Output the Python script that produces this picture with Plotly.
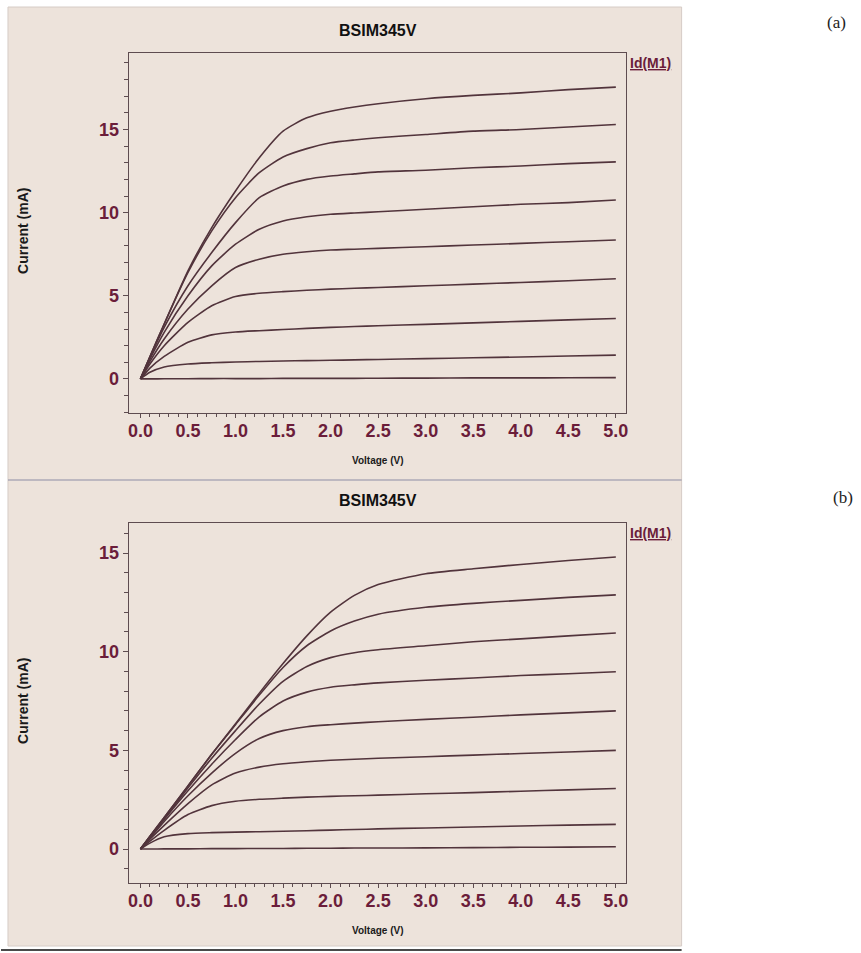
import plotly.graph_objects as go

W, H = 861, 953

# Drain voltage sweep (V)
vds = [0, 0.1, 0.25, 0.5, 0.75, 1.0, 1.25, 1.5, 1.75, 2.0, 2.25, 2.5, 3.0, 3.5, 4.0, 4.5, 5.0]

# (a) drain current Id(M1) in mA, one list per gate-voltage step
id_a1 = [0, 1.35, 3.3, 6.5, 9.1, 11.3, 13.3, 14.9, 15.7, 16.1, 16.35, 16.55, 16.85, 17.05, 17.2, 17.4, 17.55]
id_a2 = [0, 1.33, 3.3, 6.4, 8.9, 10.9, 12.4, 13.35, 13.85, 14.2, 14.37, 14.5, 14.7, 14.9, 15.0, 15.15, 15.3]
id_a3 = [0, 1.3, 3.1, 5.6, 7.6, 9.4, 10.9, 11.6, 12.0, 12.2, 12.33, 12.45, 12.55, 12.7, 12.8, 12.95, 13.05]
id_a4 = [0, 1.2, 2.8, 5.0, 6.8, 8.1, 9.0, 9.5, 9.75, 9.9, 9.98, 10.05, 10.2, 10.35, 10.5, 10.6, 10.76]
id_a5 = [0, 1.05, 2.4, 4.2, 5.6, 6.7, 7.2, 7.5, 7.65, 7.75, 7.8, 7.85, 7.95, 8.05, 8.15, 8.25, 8.35]
id_a6 = [0, 0.9, 2.0, 3.4, 4.4, 4.95, 5.15, 5.25, 5.33, 5.4, 5.45, 5.5, 5.6, 5.7, 5.8, 5.9, 6.02]
id_a7 = [0, 0.65, 1.35, 2.2, 2.65, 2.82, 2.9, 2.97, 3.04, 3.1, 3.15, 3.2, 3.28, 3.37, 3.46, 3.55, 3.63]
id_a8 = [0, 0.4, 0.72, 0.9, 0.97, 1.02, 1.05, 1.08, 1.1, 1.12, 1.145, 1.17, 1.22, 1.27, 1.32, 1.38, 1.43]
id_a9 = [0, 0.0, 0.01, 0.01, 0.02, 0.02, 0.02, 0.03, 0.03, 0.03, 0.035, 0.04, 0.05, 0.06, 0.06, 0.07, 0.08]

# (b) drain current Id(M1) in mA
id_b1 = [0, 0.65, 1.6, 3.2, 4.8, 6.35, 7.9, 9.4, 10.8, 12.0, 12.85, 13.4, 13.95, 14.2, 14.42, 14.62, 14.8]
id_b2 = [0, 0.65, 1.6, 3.2, 4.8, 6.3, 7.8, 9.2, 10.3, 11.05, 11.55, 11.9, 12.25, 12.45, 12.6, 12.75, 12.88]
id_b3 = [0, 0.62, 1.55, 3.1, 4.6, 6.0, 7.35, 8.5, 9.25, 9.7, 9.95, 10.1, 10.3, 10.5, 10.65, 10.8, 10.95]
id_b4 = [0, 0.6, 1.5, 2.95, 4.3, 5.55, 6.7, 7.5, 7.95, 8.2, 8.32, 8.42, 8.55, 8.67, 8.79, 8.88, 8.98]
id_b5 = [0, 0.55, 1.4, 2.7, 3.85, 4.85, 5.6, 6.0, 6.2, 6.3, 6.38, 6.45, 6.57, 6.68, 6.8, 6.9, 7.0]
id_b6 = [0, 0.5, 1.2, 2.3, 3.25, 3.85, 4.15, 4.32, 4.42, 4.5, 4.55, 4.6, 4.68, 4.76, 4.84, 4.92, 5.0]
id_b7 = [0, 0.4, 0.95, 1.75, 2.2, 2.42, 2.52, 2.58, 2.63, 2.67, 2.7, 2.73, 2.8, 2.86, 2.93, 3.0, 3.07]
id_b8 = [0, 0.3, 0.62, 0.78, 0.83, 0.86, 0.88, 0.9, 0.93, 0.96, 0.99, 1.02, 1.07, 1.12, 1.17, 1.21, 1.25]
id_b9 = [0, 0.0, 0.01, 0.01, 0.02, 0.02, 0.03, 0.03, 0.04, 0.04, 0.05, 0.05, 0.06, 0.07, 0.09, 0.1, 0.12]

curves_a = [id_a1, id_a2, id_a3, id_a4, id_a5, id_a6, id_a7, id_a8, id_a9]
curves_b = [id_b1, id_b2, id_b3, id_b4, id_b5, id_b6, id_b7, id_b8, id_b9]

x_tick_vals = [0, 0.5, 1, 1.5, 2, 2.5, 3, 3.5, 4, 4.5, 5]
x_tick_text = ["0.0", "0.5", "1.0", "1.5", "2.0", "2.5", "3.0", "3.5", "4.0", "4.5", "5.0"]
y_tick_vals = [0, 5, 10, 15]
y_tick_text = ["0", "5", "10", "15"]

title_text = "BSIM345V"
legend_text = "Id(M1)"
x_title = "Voltage (V)"
y_title = "Current (mA)"
panel_tags = ["(a)", "(b)"]

LINE = "rgb(82,52,60)"
TICK = "#6b1d3a"
FRAME = "#5e4c50"
PANEL = "#ede3db"
SANS = "Liberation Sans, Arial, sans-serif"
SERIF = "Liberation Serif, DejaVu Serif, serif"


def px(x):
    return x / W


def py(y):
    return 1 - y / H


fig = go.Figure()

for curves, xa, ya in ((curves_a, "x", "y"), (curves_b, "x2", "y2")):
    for ys in curves:
        fig.add_trace(go.Scatter(
            x=vds, y=ys, xaxis=xa, yaxis=ya, mode="lines",
            line=dict(color=LINE, width=1.6, shape="spline", smoothing=0.6),
            showlegend=False, hoverinfo="skip"))

minor_x = [round(0.1 * i, 1) for i in range(1, 50) if i % 5]

xaxis_common = dict(
    range=[-0.125, 5.105], tickmode="array", tickvals=x_tick_vals, ticktext=x_tick_text,
    ticks="outside", ticklen=4, tickwidth=1, tickcolor=FRAME, ticklabelstandoff=-3,
    minor=dict(tickmode="array", tickvals=minor_x, ticks="outside", ticklen=3, tickcolor=FRAME),
    showline=True, linecolor=FRAME, linewidth=1, mirror=True,
    showgrid=False, zeroline=False,
    tickfont=dict(family=SANS, size=18, color=TICK, weight="bold"),
    domain=[px(128), px(627)],
)
yaxis_common = dict(
    tickmode="array", tickvals=y_tick_vals, ticktext=y_tick_text,
    ticks="outside", ticklen=5, tickwidth=1, tickcolor=FRAME,
    minor=dict(dtick=1, ticks="outside", ticklen=4, tickcolor=FRAME),
    showline=True, linecolor=FRAME, linewidth=1, mirror=True,
    showgrid=False, zeroline=False,
    tickfont=dict(family=SANS, size=18, color=TICK, weight="bold"),
)

fig.update_layout(
    width=W, height=H, margin=dict(l=0, r=0, t=0, b=0),
    paper_bgcolor="white", plot_bgcolor="white",
    xaxis=dict(xaxis_common, anchor="y"),
    yaxis=dict(yaxis_common, range=[-2.05, 19.6], domain=[py(413), py(53)], anchor="x"),
    xaxis2=dict(xaxis_common, anchor="y2"),
    yaxis2=dict(yaxis_common, range=[-1.72, 16.52], domain=[py(883), py(523)], anchor="x2"),
)

# Beige backing panel, divider and bottom edge
shapes = [
    dict(type="rect", xref="paper", yref="paper", x0=px(7), x1=px(683), y0=py(946), y1=py(7),
         fillcolor=PANEL, line=dict(color="#d6ccc6", width=1), layer="below"),
    dict(type="line", xref="paper", yref="paper", x0=px(7), x1=px(683), y0=py(480), y1=py(480),
         line=dict(color="#8e8ea6", width=1.2), layer="below"),
    dict(type="line", xref="paper", yref="paper", x0=px(0), x1=px(683), y0=py(950), y1=py(950),
         line=dict(color="#4a4a4a", width=2), layer="below"),
]
fig.update_layout(shapes=shapes)

ann = []
for idx, (top, frame_bot, tag_xy) in enumerate(((30, 413, (838, 22)), (500, 883, (845, 497)))):
    ann.append(dict(text=f"<b>{title_text}</b>", x=px(378), y=py(top), xref="paper", yref="paper",
                    showarrow=False, xanchor="center", yanchor="middle",
                    font=dict(family=SANS, size=16, color="#111111")))
    ann.append(dict(text=f"<b><u>{legend_text}</u></b>", x=px(629), y=py(top + 33), xref="paper", yref="paper",
                    showarrow=False, xanchor="left", yanchor="middle",
                    font=dict(family=SANS, size=14, color=TICK)))
    ann.append(dict(text=f"<b>{x_title}</b>", x=px(378), y=py(frame_bot + 47), xref="paper", yref="paper",
                    showarrow=False, xanchor="center", yanchor="middle",
                    font=dict(family=SANS, size=10, color="#1a1a1a")))
    ann.append(dict(text=f"<b>{y_title}</b>", x=px(22), y=py(frame_bot - 182), xref="paper", yref="paper",
                    showarrow=False, xanchor="center", yanchor="middle", textangle=-90,
                    font=dict(family=SANS, size=14, color="#1a1a1a")))
    ann.append(dict(text=panel_tags[idx], x=px(tag_xy[0]), y=py(tag_xy[1]), xref="paper", yref="paper",
                    showarrow=False, xanchor="center", yanchor="middle",
                    font=dict(family=SERIF, size=17, color="#222222")))
fig.update_layout(annotations=ann)

fig.write_html("out.html")
